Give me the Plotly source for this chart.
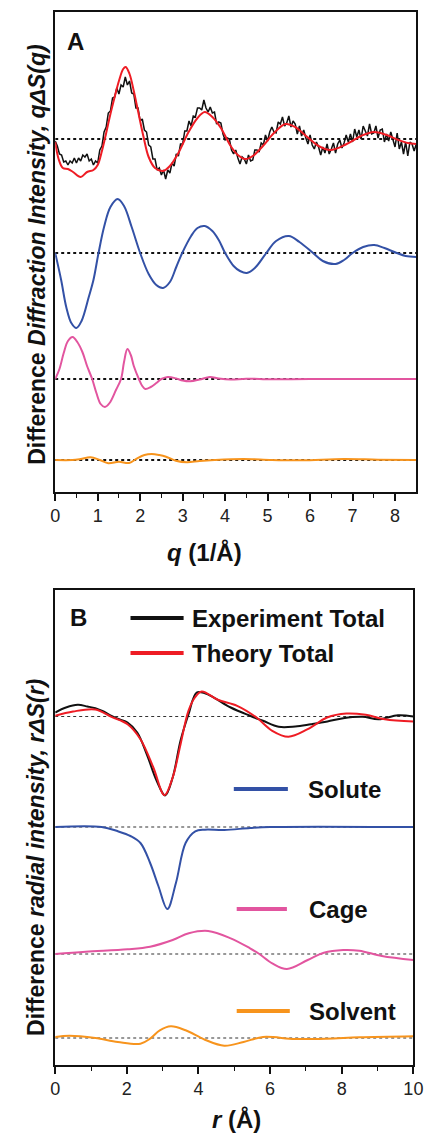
import plotly.graph_objects as go

# ---------------- Panel A: difference diffraction intensity q*dS(q) ----------------
# experimental curve, sampled every 0.05 1/A from q = 0 to 8.5
exp_a_values = [
    -2, -7, -15, -16, -23, -22, -26, -22, -24, -19,
    -24, -19, -22, -16, -18, -15, -22, -20, -26, -22,
    -24, -11, -7, 7, 12, 26, 28, 41, 42, 51,
    45, 54, 52, 62, 54, 58, 46, 45, 31, 31,
    18, 20, 9, 7, -6, -8, -20, -20, -31, -29,
    -36, -31, -40, -31, -34, -24, -27, -15, -17, -5,
    -5, 8, 8, 18, 13, 23, 22, 31, 31, 29,
    39, 31, 27, 32, 26, 27, 15, 17, 16, 5,
    -1, 1, 0, -11, -15, -11, -19, -25, -18, -20,
    -25, -16, -22, -21, -11, -11, -13, -4, -6, 4,
    -2, 7, 12, 7, 6, 17, 15, 22, 13, 16,
    23, 12, 18, 15, 5, 13, 3, 9, 1, -5,
    4, -6, -10, -3, -8, -16, -8, -14, -5, -15,
    -10, -4, -14, -5, -1, -9, -4, 4, -3, 5,
    -3, 10, 2, 9, 0, 13, 8, 3, 15, 5,
    6, 13, 1, 9, 10, -3, 5, -2, 7, 0,
    -8, 6, -10, -3, -15, -3, -17, -3, -5, -12,
    -5,
]
exp_a_q = [i * 0.05 for i in range(len(exp_a_values))]

theory_a_q = [0, 0.08, 0.18, 0.3, 0.42, 0.6, 0.75, 0.9, 1.0, 1.1, 1.2, 1.3, 1.4,
              1.5, 1.6, 1.66, 1.75, 1.85, 1.95, 2.08, 2.2, 2.35, 2.54, 2.7, 2.9,
              3.14, 3.35, 3.52, 3.7, 3.9, 4.13, 4.3, 4.47, 4.65, 4.89, 5.15, 5.42,
              5.65, 5.88, 6.2, 6.48, 6.86, 7.2, 7.5, 7.8, 8.08, 8.3, 8.5]
theory_a_values = [-3, -20, -29, -30, -33, -38, -33, -31, -26, -12, 6, 25, 42,
                   58, 70, 72, 65, 48, 28, 2, -18, -29, -32, -27, -14,
                   7, 21, 27, 22, 11, -7, -16, -20, -17, -7, 6, 15,
                   12, 4, -7, -11, -5, 3, 7, 4, -1, -4, -5]

solute_a_q = [0, 0.14, 0.26, 0.38, 0.5, 0.62, 0.79, 0.9, 1.02, 1.15, 1.3, 1.47,
              1.62, 1.8, 2.0, 2.2, 2.38, 2.54, 2.7, 2.85, 2.99, 3.2, 3.35, 3.52,
              3.7, 3.85, 4.0, 4.2, 4.35, 4.51, 4.7, 4.97, 5.2, 5.5, 5.75, 6.07,
              6.3, 6.6, 6.8, 7.0, 7.25, 7.51, 7.75, 8.04, 8.25, 8.5]
solute_a_values = [0, -27, -54, -70, -75, -68, -44, -27, 0, 26, 46, 54,
                   47, 26, 0, -21, -32, -35, -29, -14, 0, 17, 25, 27,
                   22, 13, 0, -13, -18, -20, -15, 0, 12, 17, 11, 0,
                   -8, -11, -7, 0, 6, 8, 5, 0, -3, -4]

cage_a_q = [0, 0.1, 0.2, 0.3, 0.41, 0.52, 0.64, 0.75, 0.87, 0.97, 1.07, 1.17,
            1.28, 1.43, 1.55, 1.62, 1.7, 1.78, 1.85, 1.97, 2.05, 2.12, 2.25,
            2.38, 2.5, 2.65, 2.85, 3.0, 3.18, 3.4, 3.64, 3.85, 4.13, 4.5, 5.1,
            6.0, 8.5]
cage_a_values = [0, 10, 26, 38, 42, 37, 27, 13, 0, -14, -25, -28,
                 -24, -11, 0, 17, 30, 24, 13, 0, -7, -10, -8,
                 -4, 0, 2, 0.5, -1.5, -2.3, -0.5, 2, 0.5, -0.5, 0.3, -0.3,
                 0, 0]

solvent_a_q = [0, 0.4, 0.6, 0.83, 1.05, 1.25, 1.5, 1.74, 1.93, 2.1, 2.27, 2.45,
               2.61, 2.84, 3.1, 3.4, 3.75, 4.43, 5.1, 5.8, 6.8, 7.6, 8.5]
solvent_a_values = [0, 0, 1, 2.7, 0, -3.3, -1.7, -3, 1.7, 5, 6, 5,
                    3.3, -0.7, -2.3, -1, 0, 1, 0, -0.3, 1, 0.3, 0]

# vertical stacking of the four panel-A curves
offsets_a = {"total": 353, "solute": 239, "cage": 113, "solvent": 32}

# ---------------- Panel B: difference radial intensity r*dS(r) ----------------
exp_b_r = [0, 0.3, 0.63, 0.9, 1.12, 1.35, 1.57, 1.8, 2.02, 2.29, 2.56, 2.83,
           3.07, 3.28, 3.5, 3.72, 3.95, 4.18, 4.44, 4.9, 5.44, 5.8, 6.24, 6.7,
           7.14, 7.6, 8.04, 8.58, 9.03, 9.57, 10]
exp_b_values = [4, 9, 11.7, 10, 8.3, 5, 0.7, -3, -6, -16, -38, -64,
                -79, -61, -24, 2, 24, 23.3, 18.7, 9, 0.7, -4.3, -10.3, -10,
                -7.7, -5, -1.7, -0.3, -2.7, 1.3, 0]

theory_b_r = [0, 0.5, 1.12, 1.57, 2.02, 2.38, 2.74, 3.05, 3.28, 3.5, 3.72, 3.9,
              4.09, 4.54, 5.08, 5.62, 6.06, 6.51, 7.05, 7.59, 8.13, 8.67, 9.2, 10]
theory_b_values = [0.7, 5, 7, -0.3, -7.7, -22.7, -51, -78.7, -61, -27.7, 5.7, 19,
                   25, 16.7, 10.7, -1, -14.3, -20.3, -12.7, -1, 3, 1.7, -2.7, -5]

solute_b_r = [0, 1.3, 1.75, 2.1, 2.38, 2.65, 2.88, 3.13, 3.37, 3.64, 3.91, 4.18,
              4.72, 5.44, 6.0, 10]
solute_b_values = [0, 0, -4.3, -9, -16, -36, -59, -82, -56, -16, -4.3, -2.7,
                   -3, -1, 0, 0]

cage_b_r = [0, 0.85, 2.02, 2.65, 3.28, 3.73, 4.27, 4.9, 5.44, 5.7, 6.06, 6.47,
            7.05, 7.5, 8.04, 8.49, 9.12, 10]
cage_b_values = [0, 2.3, 4.7, 7.3, 14, 20.7, 23, 15.7, 5.7, 0, -9.3, -15,
                 -6, 1.3, 4, 3.3, -2, -6]

solvent_b_r = [0, 0.4, 1.12, 1.75, 2.38, 2.65, 2.92, 3.23, 3.64, 4.18, 4.72,
               5.26, 5.8, 6.69, 7.59, 8.49, 10]
solvent_b_values = [1, 2.3, 0, -4, -5.7, -0.7, 7.7, 11.7, 7.7, -1.7, -7.7,
                    -4, 1, -1, -0.7, 0.7, 1.7]

offsets_b = {"total": 348.5, "solute": 238, "cage": 111, "solvent": 27}

# ---------------- styling ----------------
W, H = 434, 1134
BLACK = "#111111"
RED = "#ee1c24"
BLUE = "#3351a6"
PINK = "#e2559f"
ORANGE = "#f7941d"
FONT = "Liberation Sans, Arial, sans-serif"


def px(x):
    return x / W


def py(y):
    return 1 - y / H


def shifted(values, offset):
    return [v + offset for v in values]


fig = go.Figure()

# panel A traces
fig.add_trace(go.Scatter(x=exp_a_q, y=shifted(exp_a_values, offsets_a["total"]),
                         mode="lines", line=dict(color=BLACK, width=1.5),
                         xaxis="x", yaxis="y", showlegend=False))
for q, v, key, color in [
    (theory_a_q, theory_a_values, "total", RED),
    (solute_a_q, solute_a_values, "solute", BLUE),
    (cage_a_q, cage_a_values, "cage", PINK),
    (solvent_a_q, solvent_a_values, "solvent", ORANGE),
]:
    fig.add_trace(go.Scatter(x=q, y=shifted(v, offsets_a[key]), mode="lines",
                             line=dict(color=color, width=2, shape="spline", smoothing=1.0),
                             xaxis="x", yaxis="y", showlegend=False))

# panel B traces
for r, v, key, color in [
    (exp_b_r, exp_b_values, "total", BLACK),
    (theory_b_r, theory_b_values, "total", RED),
    (solute_b_r, solute_b_values, "solute", BLUE),
    (cage_b_r, cage_b_values, "cage", PINK),
    (solvent_b_r, solvent_b_values, "solvent", ORANGE),
]:
    fig.add_trace(go.Scatter(x=r, y=shifted(v, offsets_b[key]), mode="lines",
                             line=dict(color=color, width=2, shape="spline", smoothing=1.0),
                             xaxis="x2", yaxis="y2", showlegend=False))

shapes = []
# zero baselines
for off in offsets_a.values():
    shapes.append(dict(type="line", xref="x", yref="y", x0=0, x1=8.5, y0=off, y1=off,
                       line=dict(color=BLACK, width=1.8, dash="dot"), layer="below"))
for off in offsets_b.values():
    shapes.append(dict(type="line", xref="x2", yref="y2", x0=0, x1=10, y0=off, y1=off,
                       line=dict(color="#333333", width=1.2, dash="dot"), layer="below"))

annotations = []
# panel letters
annotations.append(dict(text="<b>A</b>", x=px(73), y=py(42), xref="paper", yref="paper",
                        xanchor="center", yanchor="middle", showarrow=False,
                        font=dict(family=FONT, size=24, color=BLACK)))
annotations.append(dict(text="<b>B</b>", x=px(76), y=py(617), xref="paper", yref="paper",
                        xanchor="center", yanchor="middle", showarrow=False,
                        font=dict(family=FONT, size=24, color=BLACK)))

# legend entries of panel B
legend_items = [
    ("Experiment Total", BLACK, 130, 185, 192, 618),
    ("Theory Total", RED, 130, 185, 192, 653),
    ("Solute", BLUE, 237, 293, 312, 789),
    ("Cage", PINK, 240, 292, 313, 909),
    ("Solvent", ORANGE, 240, 295, 313, 1011),
]
for label, color, x0, x1, xt, yy in legend_items:
    shapes.append(dict(type="line", xref="paper", yref="paper", x0=px(x0), x1=px(x1),
                       y0=py(yy), y1=py(yy), line=dict(color=color, width=4)))
    annotations.append(dict(text=f"<b>{label}</b>", x=px(xt), y=py(yy), xref="paper",
                            yref="paper", xanchor="left", yanchor="middle", showarrow=False,
                            font=dict(family=FONT, size=24, color=BLACK)))

# axis titles
annotations.append(dict(text="<b><i>q</i> (1/Å)</b>", x=px(207), y=py(553), xref="paper",
                        yref="paper", xanchor="center", yanchor="middle", showarrow=False,
                        font=dict(family=FONT, size=24, color=BLACK)))
annotations.append(dict(text="<b><i>r</i> (Å)</b>", x=px(240), y=py(1119), xref="paper",
                        yref="paper", xanchor="center", yanchor="middle", showarrow=False,
                        font=dict(family=FONT, size=24, color=BLACK)))
annotations.append(dict(text="<b>Difference <i>Diffraction Intensity, qΔS(q)</i></b>",
                        x=px(33), y=py(254), xref="paper", yref="paper", textangle=-90,
                        xanchor="center", yanchor="middle",
                        showarrow=False, font=dict(family=FONT, size=23, color=BLACK)))
annotations.append(dict(text="<b>Difference <i>radial intensity, rΔS(r)</i></b>",
                        x=px(32), y=py(857), xref="paper", yref="paper", textangle=-90,
                        xanchor="center", yanchor="middle",
                        showarrow=False, font=dict(family=FONT, size=23, color=BLACK)))

axis_common = dict(showline=True, linecolor=BLACK, linewidth=1.6, mirror=True,
                   showgrid=False, zeroline=False)
tickfont = dict(family=FONT, size=18, color="#222222")

fig.update_layout(
    width=W, height=H,
    margin=dict(l=0, r=0, t=0, b=0),
    paper_bgcolor="white", plot_bgcolor="white",
    showlegend=False,
    xaxis=dict(domain=[px(52), px(426)], range=[0, 8.5], anchor="y",
               tickmode="array", tickvals=[0, 1, 2, 3, 4, 5, 6, 7, 8],
               ticks="outside", ticklen=7, tickwidth=1.6, tickcolor=BLACK,
               minor=dict(tickmode="array", tickvals=[0.5, 1.5, 2.5, 3.5, 4.5, 5.5, 6.5, 7.5],
                          ticks="outside", ticklen=4, tickwidth=1.4, tickcolor=BLACK),
               tickfont=tickfont, ticklabeloverflow="allow", **axis_common),
    yaxis=dict(domain=[py(492), py(12)], range=[0, 480], anchor="x",
               showticklabels=False, ticks="", **axis_common),
    xaxis2=dict(domain=[px(52), px(423)], range=[0, 10], anchor="y2",
                tickmode="array", tickvals=[0, 2, 4, 6, 8, 10],
                ticks="outside", ticklen=7, tickwidth=1.6, tickcolor=BLACK,
                minor=dict(tickmode="array", tickvals=[1, 3, 5, 7, 9],
                           ticks="outside", ticklen=4, tickwidth=1.4, tickcolor=BLACK),
                tickfont=tickfont, ticklabeloverflow="allow", **axis_common),
    yaxis2=dict(domain=[py(1065), py(590)], range=[0, 475], anchor="x2",
                showticklabels=False, ticks="", **axis_common),
    shapes=shapes,
    annotations=annotations,
)

fig.write_html("out.html")
